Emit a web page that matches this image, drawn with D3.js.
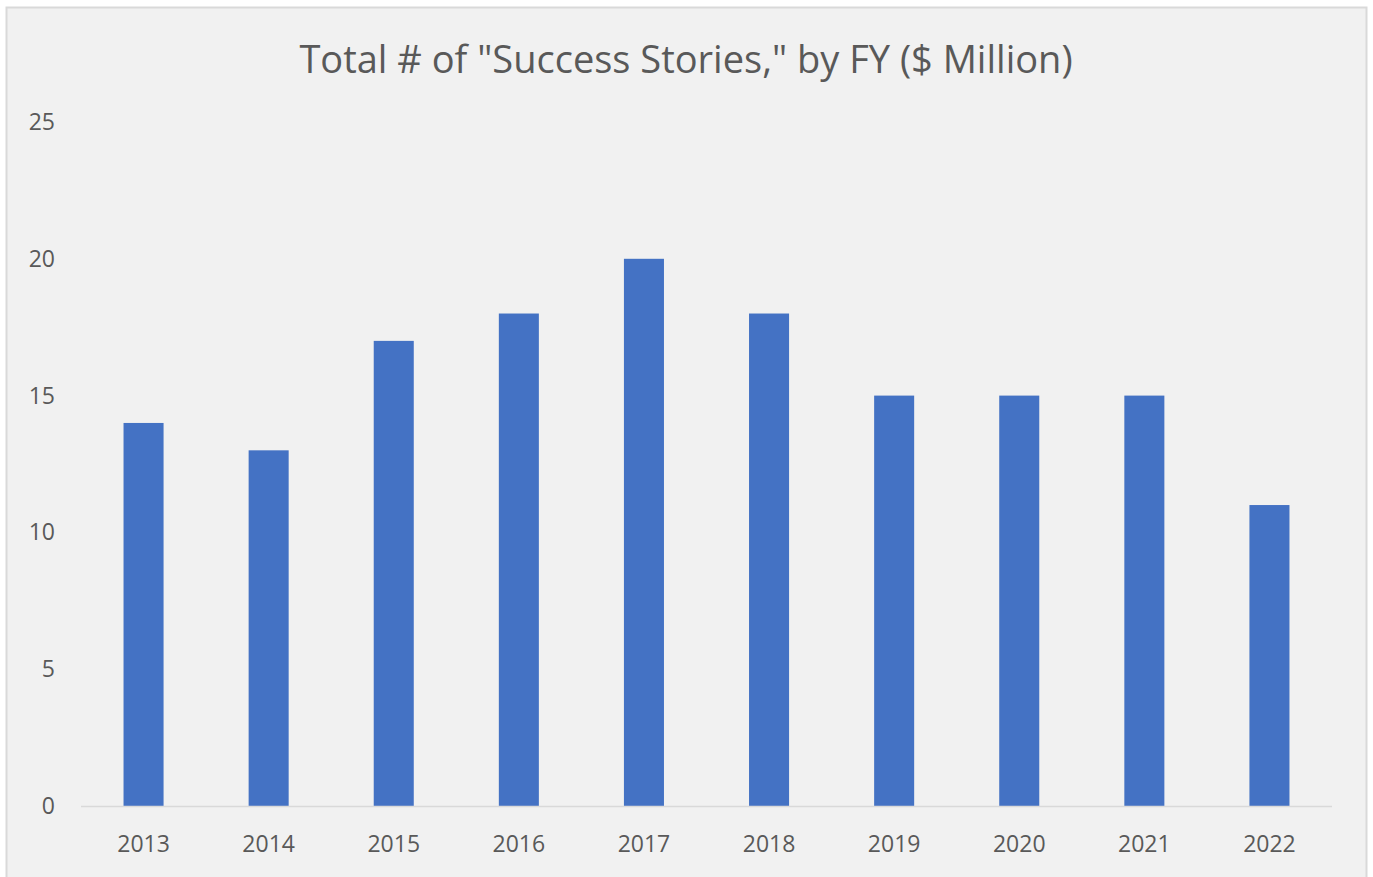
<!DOCTYPE html>
<html>
<head>
<meta charset="utf-8">
<script src="https://cdn.jsdelivr.net/npm/d3@7"></script>
<style>
  body { margin: 0; background: #ffffff; }
  svg { display: block; }
</style>
</head>
<body>
<div id="chart"></div>
<script>
/*---------- DATA ----------*/
let years = ["2013", "2014", "2015", "2016", "2017", "2018", "2019", "2020", "2021", "2022"];
let values = [14, 13, 17, 18, 20, 18, 15, 15, 15, 11];
let yTicks = [0, 5, 10, 15, 20, 25];
let title = 'Total # of "Success Stories," by FY ($ Million)';

/*---------- PLOTTING ----------*/
let width = 1373;
let height = 877;
let font = "'Open Sans', 'Liberation Sans', sans-serif";

let svg = d3
  .select("#chart")
  .append("svg")
  .attr("width", width)
  .attr("height", height);

// Panel background
svg
  .append("rect")
  .attr("x", 6.5)
  .attr("y", 7.5)
  .attr("width", 1360)
  .attr("height", 880)
  .attr("fill", "#f1f1f1")
  .attr("stroke", "#d9d9d9")
  .attr("stroke-width", 2);

// Scales
let x = d3.scaleBand().domain(years).range([81, 1332]).paddingInner(0.68).paddingOuter(0.34);
let y = d3.scaleLinear().domain([0, 25]).range([806, 122]);

// Title
svg
  .append("text")
  .attr("x", 686)
  .attr("y", 73)
  .attr("text-anchor", "middle")
  .attr("font-family", font)
  .attr("font-size", "38px")
  .attr("fill", "#595959")
  .text(title);

// Y tick labels
svg
  .selectAll("text.ytick")
  .data(yTicks)
  .join("text")
  .attr("class", "ytick")
  .attr("x", 55)
  .attr("y", (d) => y(d))
  .attr("dy", "0.35em")
  .attr("text-anchor", "end")
  .attr("font-family", font)
  .attr("font-size", "23px")
  .attr("fill", "#595959")
  .text((d) => d);

// Bars
svg
  .selectAll("rect.bar")
  .data(values)
  .join("rect")
  .attr("class", "bar")
  .attr("x", (d, i) => x(years[i]))
  .attr("y", (d) => y(d))
  .attr("width", x.bandwidth())
  .attr("height", (d) => y(0) - y(d))
  .attr("fill", "#4472c4");

// Baseline
svg
  .append("line")
  .attr("x1", 81)
  .attr("x2", 1332)
  .attr("y1", y(0) + 0.5)
  .attr("y2", y(0) + 0.5)
  .attr("stroke", "#d9d9d9")
  .attr("stroke-width", 1.5);

// X tick labels
svg
  .selectAll("text.xtick")
  .data(years)
  .join("text")
  .attr("class", "xtick")
  .attr("x", (d) => x(d) + x.bandwidth() / 2)
  .attr("y", 852)
  .attr("text-anchor", "middle")
  .attr("font-family", font)
  .attr("font-size", "23px")
  .attr("fill", "#595959")
  .text((d) => d);
</script>
</body>
</html>
